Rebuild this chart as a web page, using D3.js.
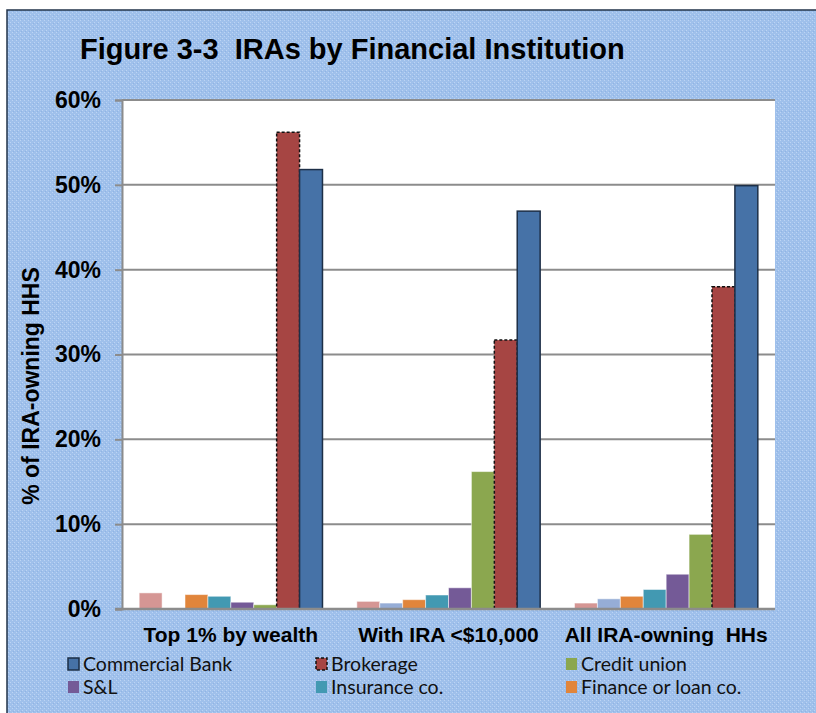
<!DOCTYPE html>
<html>
<head>
<meta charset="utf-8">
<script src="https://cdn.jsdelivr.net/npm/d3@7"></script>
<style>
  body { margin: 0; background: #fff; }
  svg { display: block; }
</style>
</head>
<body>
<div id="chart"></div>
<script>
// Données (en %)
const categories = ["Top 1% by wealth", "With IRA <$10,000", "All IRA-owning  HHs"];
const seriesNames = ["Other A", "Other B", "Finance or loan co.", "Insurance co.", "S&L", "Credit union", "Brokerage", "Commercial Bank"];
const otherA = [1.9, 0.9, 0.7];
const otherB = [0.1, 0.7, 1.2];
const financeLoan = [1.7, 1.1, 1.5];
const insurance = [1.5, 1.65, 2.3];
const savingsLoan = [0.8, 2.5, 4.1];
const creditUnion = [0.5, 16.2, 8.8];
const brokerage = [56.2, 31.7, 38.0];
const commercialBank = [51.8, 46.9, 49.9];
const yTicks = [0, 10, 20, 30, 40, 50, 60];
const legendOrder = ["Commercial Bank", "Brokerage", "Credit union", "S&L", "Insurance co.", "Finance or loan co."];

const seriesValues = [otherA, otherB, financeLoan, insurance, savingsLoan, creditUnion, brokerage, commercialBank];

const color = d3.scaleOrdinal()
    .domain(seriesNames)
    .range(["#D59694", "#96ADD6", "#E1853B", "#4299B2", "#745A97", "#8BA74F", "#A64543", "#4672A7"]);

const width = 816, height = 713;
const margin = { top: 100, right: 41, bottom: 104, left: 122 };
const boldFont = "Liberation Sans, Arial, sans-serif";

const svg = d3.select("#chart").append("svg")
    .attr("width", width).attr("height", height);

// fond bleu tramé
const defs = svg.append("defs");
const pat = defs.append("pattern")
    .attr("id", "trame").attr("width", 4).attr("height", 4)
    .attr("patternUnits", "userSpaceOnUse");
pat.append("rect").attr("width", 4).attr("height", 4).attr("fill", "#9FC0EB");
pat.append("rect").attr("x", 0).attr("y", 0).attr("width", 1).attr("height", 1).attr("fill", "#BCD4F4");
pat.append("rect").attr("x", 2).attr("y", 2).attr("width", 1).attr("height", 1).attr("fill", "#BCD4F4");
pat.append("rect").attr("x", 1).attr("y", 3).attr("width", 1).attr("height", 1).attr("fill", "#90B4E4");

svg.append("rect")
    .attr("x", 7).attr("y", 10).attr("width", width).attr("height", height)
    .attr("fill", "url(#trame)")
    .attr("stroke", "#22334a").attr("stroke-width", 1.5);

// titre
svg.append("text")
    .attr("x", 80).attr("y", 59)
    .attr("font-family", boldFont)
    .attr("font-weight", "bold").attr("font-size", 29)
    .attr("fill", "#000")
    .attr("xml:space", "preserve")
    .style("white-space", "pre")
    .text("Figure 3-3  IRAs by Financial Institution");

const x0 = d3.scaleBand().domain(categories)
    .range([margin.left, width - margin.right]).padding(0);
const x1 = d3.scaleBand().domain(seriesNames)
    .range([0, x0.bandwidth()]).paddingInner(0).paddingOuter(0.75);
const y = d3.scaleLinear().domain([0, 60]).range([height - margin.bottom, margin.top]);

// zone de tracé
svg.append("rect")
    .attr("x", margin.left).attr("y", margin.top)
    .attr("width", width - margin.right - margin.left)
    .attr("height", y(0) - margin.top)
    .attr("fill", "#fff");

// grille
svg.append("g")
    .selectAll("line")
    .data(yTicks.filter(d => d > 0))
    .enter().append("line")
    .attr("x1", margin.left).attr("x2", width - margin.right)
    .attr("y1", d => y(d)).attr("y2", d => y(d))
    .attr("stroke", "#8c8c8c").attr("stroke-width", 2);

// barres
const groups = svg.append("g")
    .selectAll("g")
    .data(categories)
    .enter().append("g")
    .attr("transform", d => `translate(${x0(d)},0)`);

groups.selectAll("rect")
    .data((c, i) => seriesNames.map((s, k) => ({ key: s, value: seriesValues[k][i] })))
    .enter().append("rect")
    .attr("x", d => x1(d.key))
    .attr("y", d => y(d.value))
    .attr("width", x1.bandwidth())
    .attr("height", d => y(0) - y(d.value))
    .attr("fill", d => color(d.key))
    .attr("stroke", d => d.key === "Brokerage" ? "#111" : d.key === "Commercial Bank" ? "#1d2f47" : "rgba(255,255,255,0.5)")
    .attr("stroke-width", d => d.key === "Brokerage" || d.key === "Commercial Bank" ? 1.5 : 1)
    .attr("stroke-dasharray", d => d.key === "Brokerage" ? "3,2" : null);

// axes
const yAxis = svg.append("g")
    .attr("transform", `translate(${margin.left},0)`)
    .call(d3.axisLeft(y).tickValues(yTicks).tickFormat(d => d + "%").tickSize(7).tickPadding(14));
yAxis.select(".domain").attr("stroke", "#8c8c8c").attr("stroke-width", 2);
yAxis.selectAll(".tick line").attr("stroke", "#8c8c8c").attr("stroke-width", 2);
yAxis.selectAll("text")
    .attr("font-family", boldFont)
    .attr("font-weight", "bold").attr("font-size", 23).attr("fill", "#000");

svg.append("line")
    .attr("x1", margin.left - 7).attr("x2", width - margin.right)
    .attr("y1", y(0)).attr("y2", y(0))
    .attr("stroke", "#8c8c8c").attr("stroke-width", 2.5);

svg.append("g")
    .selectAll("text")
    .data(categories)
    .enter().append("text")
    .attr("x", d => x0(d) + x0.bandwidth() / 2)
    .attr("y", 642)
    .attr("text-anchor", "middle")
    .attr("font-family", boldFont)
    .attr("font-weight", "bold").attr("font-size", 21)
    .attr("xml:space", "preserve")
    .style("white-space", "pre")
    .text(d => d);

svg.append("text")
    .attr("transform", `translate(39,386) rotate(-90)`)
    .attr("text-anchor", "middle")
    .attr("font-family", boldFont)
    .attr("font-weight", "bold").attr("font-size", 23)
    .text("% of IRA-owning HHS");

// légende
const legendX = [68, 316, 566];
const legend = svg.append("g")
    .selectAll("g")
    .data(legendOrder)
    .enter().append("g")
    .attr("transform", (d, i) => `translate(${legendX[i % 3]},${658 + Math.floor(i / 3) * 23})`);

legend.append("rect")
    .attr("width", 11).attr("height", 12)
    .attr("fill", d => color(d))
    .attr("stroke", d => d === "Brokerage" ? "#111" : d === "Commercial Bank" ? "#1d2f47" : "none")
    .attr("stroke-width", 1.5)
    .attr("stroke-dasharray", d => d === "Brokerage" ? "3,2" : null);

legend.append("text")
    .attr("x", 15).attr("y", 13)
    .attr("font-family", "Lato, sans-serif")
    .attr("font-size", 19.5).attr("fill", "#111")
    .text(d => d);
</script>
</body>
</html>
